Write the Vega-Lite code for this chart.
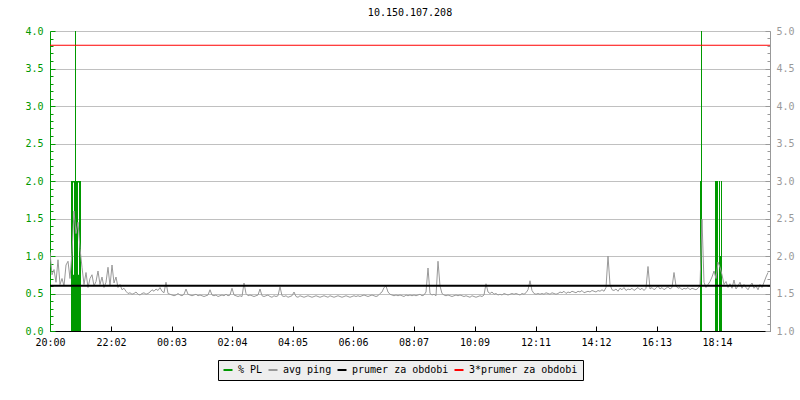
{
  "$schema": "https://vega.github.io/schema/vega-lite/v6.json",
  "width": 720,
  "height": 300,
  "autosize": "none",
  "padding": {"left": 50, "top": 31, "right": 30, "bottom": 69},
  "background": "#ffffff",
  "title": {"text": "10.150.107.208", "font": "DejaVu Sans Mono", "fontSize": 10, "fontWeight": "normal", "color": "#000000", "baseline": "alphabetic", "offset": 0},
  "config": {"view": {"stroke": null}},
  "datasets": {
    "pl": [
      {"m": 42, "m2": 62, "lo": 0, "hi": 0.75},
      {"m": 42, "m2": 46, "lo": 0, "hi": 2},
      {"m": 48, "m2": 56, "lo": 0, "hi": 2},
      {"m": 58, "m2": 62, "lo": 0, "hi": 2},
      {"m": 42, "m2": 62, "lo": 1.98, "hi": 2},
      {"m": 50, "m2": 52, "lo": 0, "hi": 4},
      {"m": 1300, "m2": 1304, "lo": 0, "hi": 2},
      {"m": 1302, "m2": 1304, "lo": 0, "hi": 4},
      {"m": 1330, "m2": 1336, "lo": 0, "hi": 2},
      {"m": 1338, "m2": 1340, "lo": 0, "hi": 2},
      {"m": 1340, "m2": 1344, "lo": 0, "hi": 1},
      {"m": 1342, "m2": 1344, "lo": 0, "hi": 2}
    ],
    "lines": [
      {"name": "prumer za obdobi", "p": 1.603},
      {"name": "3*prumer za obdobi", "p": 4.81}
    ],
    "ping": [
      {"m":0,"p":2.05},{"m":4,"p":1.75},{"m":8,"p":1.82},{"m":12,"p":1.65},{"m":16,"p":1.95},{"m":20,"p":1.62},{"m":24,"p":1.70},{"m":28,"p":1.60},{"m":32,"p":1.88},{"m":36,"p":1.93},
      {"m":40,"p":1.70},{"m":44,"p":2.05},{"m":48,"p":2.60},{"m":52,"p":2.30},{"m":56,"p":2.45},{"m":60,"p":2.10},{"m":64,"p":1.85},{"m":68,"p":1.62},{"m":72,"p":1.78},{"m":76,"p":1.58},
      {"m":80,"p":1.70},{"m":84,"p":1.75},{"m":88,"p":1.60},{"m":92,"p":1.66},{"m":96,"p":1.80},{"m":100,"p":1.62},{"m":104,"p":1.72},{"m":108,"p":1.58},{"m":112,"p":1.65},{"m":116,"p":1.85},
      {"m":120,"p":1.60},{"m":124,"p":1.88},{"m":128,"p":1.64},{"m":132,"p":1.72},{"m":136,"p":1.58},{"m":140,"p":1.62},{"m":144,"p":1.55},{"m":148,"p":1.57},{"m":152,"p":1.53},{"m":156,"p":1.50},
      {"m":160,"p":1.51},{"m":164,"p":1.49},{"m":168,"p":1.50},{"m":172,"p":1.52},{"m":176,"p":1.49},{"m":180,"p":1.48},{"m":184,"p":1.50},{"m":188,"p":1.51},{"m":192,"p":1.49},{"m":196,"p":1.50},
      {"m":200,"p":1.52},{"m":204,"p":1.55},{"m":208,"p":1.53},{"m":212,"p":1.56},{"m":216,"p":1.54},{"m":220,"p":1.58},{"m":224,"p":1.53},{"m":228,"p":1.51},{"m":232,"p":1.65},{"m":236,"p":1.50},
      {"m":240,"p":1.49},{"m":244,"p":1.48},{"m":248,"p":1.47},{"m":252,"p":1.48},{"m":256,"p":1.50},{"m":260,"p":1.48},{"m":264,"p":1.47},{"m":268,"p":1.49},{"m":272,"p":1.56},{"m":276,"p":1.49},
      {"m":280,"p":1.48},{"m":284,"p":1.47},{"m":288,"p":1.48},{"m":292,"p":1.49},{"m":296,"p":1.47},{"m":300,"p":1.48},{"m":304,"p":1.47},{"m":308,"p":1.46},{"m":312,"p":1.47},{"m":316,"p":1.48},
      {"m":320,"p":1.55},{"m":324,"p":1.48},{"m":328,"p":1.47},{"m":332,"p":1.48},{"m":336,"p":1.46},{"m":340,"p":1.47},{"m":344,"p":1.48},{"m":348,"p":1.47},{"m":352,"p":1.49},{"m":356,"p":1.47},
      {"m":360,"p":1.48},{"m":364,"p":1.57},{"m":368,"p":1.48},{"m":372,"p":1.47},{"m":376,"p":1.46},{"m":380,"p":1.47},{"m":384,"p":1.46},{"m":388,"p":1.64},{"m":392,"p":1.50},{"m":396,"p":1.47},
      {"m":400,"p":1.48},{"m":404,"p":1.47},{"m":408,"p":1.46},{"m":412,"p":1.47},{"m":416,"p":1.48},{"m":420,"p":1.56},{"m":424,"p":1.47},{"m":428,"p":1.46},{"m":432,"p":1.47},{"m":436,"p":1.48},
      {"m":440,"p":1.46},{"m":444,"p":1.45},{"m":448,"p":1.47},{"m":452,"p":1.46},{"m":456,"p":1.47},{"m":460,"p":1.59},{"m":464,"p":1.47},{"m":468,"p":1.46},{"m":472,"p":1.47},{"m":476,"p":1.45},
      {"m":480,"p":1.46},{"m":484,"p":1.47},{"m":488,"p":1.52},{"m":492,"p":1.46},{"m":496,"p":1.45},{"m":500,"p":1.47},{"m":504,"p":1.46},{"m":508,"p":1.45},{"m":512,"p":1.46},{"m":516,"p":1.47},
      {"m":520,"p":1.46},{"m":524,"p":1.45},{"m":528,"p":1.46},{"m":532,"p":1.47},{"m":536,"p":1.46},{"m":540,"p":1.45},{"m":544,"p":1.46},{"m":548,"p":1.47},{"m":552,"p":1.46},{"m":556,"p":1.45},
      {"m":560,"p":1.47},{"m":564,"p":1.46},{"m":568,"p":1.45},{"m":572,"p":1.46},{"m":576,"p":1.47},{"m":580,"p":1.46},{"m":584,"p":1.45},{"m":588,"p":1.46},{"m":592,"p":1.47},{"m":596,"p":1.46},
      {"m":600,"p":1.45},{"m":604,"p":1.46},{"m":608,"p":1.47},{"m":612,"p":1.46},{"m":616,"p":1.47},{"m":620,"p":1.46},{"m":624,"p":1.47},{"m":628,"p":1.48},{"m":632,"p":1.47},{"m":636,"p":1.46},
      {"m":640,"p":1.47},{"m":644,"p":1.48},{"m":648,"p":1.47},{"m":652,"p":1.46},{"m":656,"p":1.47},{"m":660,"p":1.50},{"m":664,"p":1.52},{"m":668,"p":1.58},{"m":672,"p":1.60},{"m":676,"p":1.52},
      {"m":680,"p":1.49},{"m":684,"p":1.48},{"m":688,"p":1.47},{"m":692,"p":1.48},{"m":696,"p":1.47},{"m":700,"p":1.48},{"m":704,"p":1.47},{"m":708,"p":1.46},{"m":712,"p":1.48},{"m":716,"p":1.47},
      {"m":720,"p":1.48},{"m":724,"p":1.47},{"m":728,"p":1.48},{"m":732,"p":1.47},{"m":736,"p":1.48},{"m":740,"p":1.49},{"m":744,"p":1.47},{"m":748,"p":1.48},{"m":752,"p":1.52},{"m":756,"p":1.84},
      {"m":760,"p":1.50},{"m":764,"p":1.48},{"m":768,"p":1.49},{"m":772,"p":1.47},{"m":776,"p":1.93},{"m":780,"p":1.60},{"m":784,"p":1.50},{"m":788,"p":1.48},{"m":792,"p":1.47},{"m":796,"p":1.48},
      {"m":800,"p":1.47},{"m":804,"p":1.46},{"m":808,"p":1.47},{"m":812,"p":1.48},{"m":816,"p":1.47},{"m":820,"p":1.48},{"m":824,"p":1.47},{"m":828,"p":1.46},{"m":832,"p":1.47},{"m":836,"p":1.46},
      {"m":840,"p":1.45},{"m":844,"p":1.47},{"m":848,"p":1.46},{"m":852,"p":1.45},{"m":856,"p":1.46},{"m":860,"p":1.47},{"m":864,"p":1.46},{"m":868,"p":1.48},{"m":872,"p":1.63},{"m":876,"p":1.52},
      {"m":880,"p":1.50},{"m":884,"p":1.52},{"m":888,"p":1.49},{"m":892,"p":1.50},{"m":896,"p":1.48},{"m":900,"p":1.49},{"m":904,"p":1.48},{"m":908,"p":1.50},{"m":912,"p":1.49},{"m":916,"p":1.48},
      {"m":920,"p":1.49},{"m":924,"p":1.50},{"m":928,"p":1.49},{"m":932,"p":1.50},{"m":936,"p":1.49},{"m":940,"p":1.48},{"m":944,"p":1.50},{"m":948,"p":1.49},{"m":952,"p":1.51},{"m":956,"p":1.55},
      {"m":960,"p":1.67},{"m":964,"p":1.54},{"m":968,"p":1.50},{"m":972,"p":1.49},{"m":976,"p":1.50},{"m":980,"p":1.49},{"m":984,"p":1.50},{"m":988,"p":1.49},{"m":992,"p":1.51},{"m":996,"p":1.50},
      {"m":1000,"p":1.49},{"m":1004,"p":1.51},{"m":1008,"p":1.50},{"m":1012,"p":1.49},{"m":1016,"p":1.50},{"m":1020,"p":1.52},{"m":1024,"p":1.51},{"m":1028,"p":1.53},{"m":1032,"p":1.50},{"m":1036,"p":1.52},
      {"m":1040,"p":1.51},{"m":1044,"p":1.53},{"m":1048,"p":1.52},{"m":1052,"p":1.51},{"m":1056,"p":1.53},{"m":1060,"p":1.52},{"m":1064,"p":1.54},{"m":1068,"p":1.51},{"m":1072,"p":1.52},{"m":1076,"p":1.53},
      {"m":1080,"p":1.52},{"m":1084,"p":1.54},{"m":1088,"p":1.53},{"m":1092,"p":1.52},{"m":1096,"p":1.54},{"m":1100,"p":1.53},{"m":1104,"p":1.55},{"m":1108,"p":1.53},{"m":1112,"p":1.58},{"m":1116,"p":2.00},
      {"m":1120,"p":1.62},{"m":1124,"p":1.55},{"m":1128,"p":1.54},{"m":1132,"p":1.56},{"m":1136,"p":1.53},{"m":1140,"p":1.57},{"m":1144,"p":1.55},{"m":1148,"p":1.58},{"m":1152,"p":1.54},{"m":1156,"p":1.56},
      {"m":1160,"p":1.55},{"m":1164,"p":1.57},{"m":1168,"p":1.54},{"m":1172,"p":1.56},{"m":1176,"p":1.58},{"m":1180,"p":1.55},{"m":1184,"p":1.57},{"m":1188,"p":1.54},{"m":1192,"p":1.57},{"m":1196,"p":1.86},
      {"m":1200,"p":1.56},{"m":1204,"p":1.58},{"m":1208,"p":1.55},{"m":1212,"p":1.57},{"m":1216,"p":1.60},{"m":1220,"p":1.56},{"m":1224,"p":1.58},{"m":1228,"p":1.55},{"m":1232,"p":1.57},{"m":1236,"p":1.59},
      {"m":1240,"p":1.56},{"m":1244,"p":1.58},{"m":1248,"p":1.78},{"m":1252,"p":1.60},{"m":1256,"p":1.57},{"m":1260,"p":1.58},{"m":1264,"p":1.55},{"m":1268,"p":1.57},{"m":1272,"p":1.56},{"m":1276,"p":1.58},
      {"m":1280,"p":1.55},{"m":1284,"p":1.57},{"m":1288,"p":1.56},{"m":1292,"p":1.55},{"m":1296,"p":1.57},{"m":1300,"p":1.60},{"m":1304,"p":2.49},{"m":1308,"p":1.65},{"m":1312,"p":1.58},{"m":1316,"p":1.62},
      {"m":1320,"p":1.66},{"m":1324,"p":1.72},{"m":1328,"p":1.80},{"m":1332,"p":1.70},{"m":1336,"p":1.92},{"m":1340,"p":1.85},{"m":1344,"p":1.75},{"m":1348,"p":1.62},{"m":1352,"p":1.66},{"m":1356,"p":1.58},
      {"m":1360,"p":1.63},{"m":1364,"p":1.57},{"m":1368,"p":1.68},{"m":1372,"p":1.56},{"m":1376,"p":1.60},{"m":1380,"p":1.65},{"m":1384,"p":1.57},{"m":1388,"p":1.62},{"m":1392,"p":1.58},{"m":1396,"p":1.55},
      {"m":1400,"p":1.60},{"m":1404,"p":1.64},{"m":1408,"p":1.57},{"m":1412,"p":1.60},{"m":1416,"p":1.55},{"m":1420,"p":1.62},{"m":1424,"p":1.58},{"m":1428,"p":1.65},{"m":1432,"p":1.72},{"m":1436,"p":1.78}
    ]
  },
  "layer": [
    {
      "data": {"name": "pl"},
      "mark": {"type": "rect", "clip": true},
      "encoding": {
        "x": {
          "field": "m", "type": "quantitative",
          "scale": {"domain": [0, 1440], "nice": false, "zero": false},
          "axis": {
            "title": null, "grid": false,
            "values": [0, 122, 243, 364, 485, 606, 727, 849, 971, 1092, 1213, 1334],
            "labelExpr": "timeFormat(datetime(2000, 0, 1, 20, datum.value, 0), '%H:%M')",
            "labelFont": "DejaVu Sans Mono", "labelFontSize": 10, "labelColor": "#000000",
            "domainColor": "#000000", "tickColor": "#000000", "tickSize": -5, "labelPadding": 11,
            "labelFlush": false, "labelOverlap": false
          }
        },
        "x2": {"field": "m2"},
        "y": {
          "field": "hi", "type": "quantitative",
          "scale": {"domain": [0, 4], "nice": false, "zero": false},
          "axis": {
            "orient": "left", "title": null,
            "values": [0,0.1,0.2,0.3,0.4,0.5,0.6,0.7,0.8,0.9,1,1.1,1.2,1.3,1.4,1.5,1.6,1.7,1.8,1.9,2,2.1,2.2,2.3,2.4,2.5,2.6,2.7,2.8,2.9,3,3.1,3.2,3.3,3.4,3.5,3.6,3.7,3.8,3.9,4],
            "labelExpr": "(round(datum.value*10) % 5 == 0) ? format(datum.value, '.1f') : ''",
            "labelFont": "DejaVu Sans Mono", "labelFontSize": 10, "labelColor": "#009900",
            "domainColor": "#009900", "tickColor": "#009900",
            "tickSize": {"condition": {"test": "round(datum.value*10) % 5 == 0", "value": -5}, "value": -3},
            "labelPadding": 12, "labelFlush": false, "labelOverlap": false,
            "grid": true, "gridColor": "#c0c0c0",
            "gridOpacity": {"condition": {"test": "round(datum.value*10) % 5 == 0", "value": 1}, "value": 0}
          }
        },
        "y2": {"field": "lo"},
        "color": {
          "datum": "% PL",
          "scale": {"domain": ["% PL", "avg ping", "prumer za obdobi", "3*prumer za obdobi"], "range": ["#009900", "#999999", "#000000", "#ff0000"]},
          "legend": {
            "orient": "none", "legendX": 168, "legendY": 329, "direction": "horizontal", "title": null,
            "symbolType": "M-1,-0.22H1V0.22H-1Z", "symbolSize": 81,
            "labelFont": "DejaVu Sans Mono", "labelFontSize": 10, "labelColor": "#000000",
            "fillColor": "#eeeeee", "strokeColor": "#000000", "padding": 5, "columnPadding": 5, "labelOffset": 5,
            "encode": {"symbols": {"update": {"fill": {"scale": "color", "field": "value"}, "stroke": {"value": "transparent"}, "strokeWidth": {"value": 0}, "opacity": {"value": 1}, "fillOpacity": {"value": 1}}}}
          }
        }
      }
    },
    {
      "encoding": {
        "y": {
          "field": "p", "type": "quantitative",
          "scale": {"domain": [1, 5], "nice": false, "zero": false},
          "axis": {
            "orient": "right", "title": null,
            "values": [1,1.1,1.2,1.3,1.4,1.5,1.6,1.7,1.8,1.9,2,2.1,2.2,2.3,2.4,2.5,2.6,2.7,2.8,2.9,3,3.1,3.2,3.3,3.4,3.5,3.6,3.7,3.8,3.9,4,4.1,4.2,4.3,4.4,4.5,4.6,4.7,4.8,4.9,5],
            "labelExpr": "(round(datum.value*10) % 5 == 0) ? format(datum.value, '.1f') : ''",
            "labelFont": "DejaVu Sans Mono", "labelFontSize": 10, "labelColor": "#999999",
            "domainColor": "#999999", "tickColor": "#999999",
            "tickSize": {"condition": {"test": "round(datum.value*10) % 5 == 0", "value": -5}, "value": -3},
            "labelPadding": 11, "labelFlush": false, "labelOverlap": false, "grid": false
          }
        }
      },
      "layer": [
        {
          "data": {"name": "ping"},
          "mark": {"type": "line", "strokeWidth": 1, "clip": true},
          "encoding": {
            "x": {
              "field": "m", "type": "quantitative",
              "scale": {"domain": [0, 1440], "nice": false, "zero": false},
              "axis": {
                "title": null, "grid": false,
                "values": [0, 122, 243, 364, 485, 606, 727, 849, 971, 1092, 1213, 1334],
                "labelExpr": "timeFormat(datetime(2000, 0, 1, 20, datum.value, 0), '%H:%M')",
                "labelFont": "DejaVu Sans Mono", "labelFontSize": 10, "labelColor": "#000000",
                "domainColor": "#000000", "tickColor": "#000000", "tickSize": -5, "labelPadding": 11,
                "labelFlush": false, "labelOverlap": false
              }
            },
            "color": {
              "datum": "avg ping",
              "scale": {"domain": ["% PL", "avg ping", "prumer za obdobi", "3*prumer za obdobi"], "range": ["#009900", "#999999", "#000000", "#ff0000"]},
              "legend": {
                "orient": "none", "legendX": 168, "legendY": 329, "direction": "horizontal", "title": null,
                "symbolType": "M-1,-0.22H1V0.22H-1Z", "symbolSize": 81,
                "labelFont": "DejaVu Sans Mono", "labelFontSize": 10, "labelColor": "#000000",
                "fillColor": "#eeeeee", "strokeColor": "#000000", "padding": 5, "columnPadding": 5, "labelOffset": 5,
                "encode": {"symbols": {"update": {"fill": {"scale": "color", "field": "value"}, "stroke": {"value": "transparent"}, "strokeWidth": {"value": 0}, "opacity": {"value": 1}, "fillOpacity": {"value": 1}}}}
              }
            }
          }
        },
        {
          "data": {"name": "lines"},
          "mark": {"type": "rule"},
          "encoding": {
            "strokeWidth": {"condition": {"test": "datum.name == 'prumer za obdobi'", "value": 2}, "value": 1},
            "color": {
              "field": "name", "type": "nominal",
              "scale": {"domain": ["% PL", "avg ping", "prumer za obdobi", "3*prumer za obdobi"], "range": ["#009900", "#999999", "#000000", "#ff0000"]},
              "legend": {
                "orient": "none", "legendX": 168, "legendY": 329, "direction": "horizontal", "title": null,
                "symbolType": "M-1,-0.22H1V0.22H-1Z", "symbolSize": 81,
                "labelFont": "DejaVu Sans Mono", "labelFontSize": 10, "labelColor": "#000000",
                "fillColor": "#eeeeee", "strokeColor": "#000000", "padding": 5, "columnPadding": 5, "labelOffset": 5,
                "encode": {"symbols": {"update": {"fill": {"scale": "color", "field": "value"}, "stroke": {"value": "transparent"}, "strokeWidth": {"value": 0}, "opacity": {"value": 1}, "fillOpacity": {"value": 1}}}}
              }
            }
          }
        }
      ]
    }
  ],
  "resolve": {"scale": {"y": "independent"}}
}
